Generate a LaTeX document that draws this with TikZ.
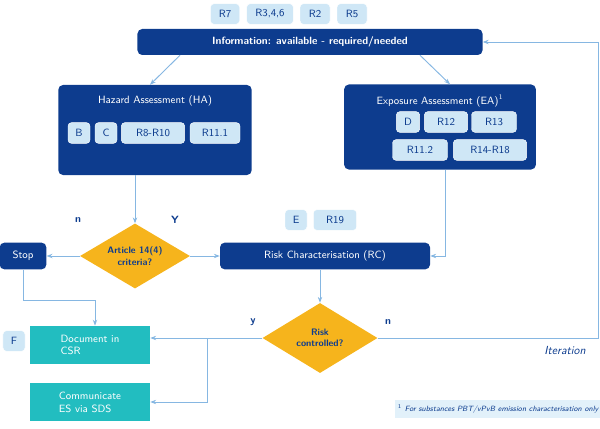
\documentclass[tikz,border=0pt]{standalone}
\usepackage{tikz}
\usetikzlibrary{shapes.geometric,arrows.meta}
\definecolor{navy}{HTML}{0D3C8E}
\definecolor{pale}{HTML}{CFE7F6}
\definecolor{teal}{HTML}{22BDC0}
\definecolor{amber}{HTML}{F6B41C}
\definecolor{wire}{HTML}{86B7E2}
\tikzset{
  big/.style={draw=none, fill=navy, rounded corners=4pt, text=white, font=\sffamily\small},
  tag/.style={draw=white, fill=pale, rounded corners=3pt, text=navy, font=\sffamily\small,
    minimum height=0.62cm, inner sep=2pt},
  doc/.style={draw=none, fill=teal, text=white, font=\sffamily\small, align=left,
    minimum width=3.6cm, minimum height=1.15cm},
  ask/.style={diamond, aspect=1.7, fill=amber, draw=none, text=navy, font=\sffamily\bfseries\footnotesize,
    align=center, inner sep=1pt},
  flow/.style={draw=wire, thick, -{Stealth[length=5pt]}},
  yesno/.style={font=\sffamily\bfseries\small, text=navy}
}
\begin{document}
\begin{tikzpicture}[x=0.03cm,y=-0.03cm]
  \useasboundingbox (0,0) rectangle (600,428);
  % top tags
  \node[tag, minimum width=0.87cm] (r7)  at (225,14) {R7};
  \node[tag, minimum width=1.4cm]  (r346) at (270,14) {R3,4,6};
  \node[tag, minimum width=0.9cm]  (r2)  at (315,14) {R2};
  \node[tag, minimum width=0.9cm]  (r5)  at (352,14) {R5};
  \node[big, font=\sffamily\bfseries\small, minimum width=10.35cm, minimum height=0.78cm] (info) at (310,42)
    {Information: available - required/needed};
  % assessments
  \node[big, minimum width=5.8cm, minimum height=2.7cm] (ha) at (155,130) {};
  \node[text=white, font=\sffamily\small] (hat) at (155,101) {Hazard Assessment (HA)};
  \node[tag, minimum width=0.66cm] (b)  at (79,133)  {B};
  \node[tag, minimum width=0.66cm] (c)  at (106,133) {C};
  \node[tag, minimum width=1.9cm]  (r8) at (153,133) {R8-R10};
  \node[tag, minimum width=1.5cm]  (r111) at (215,133) {R11.1};
  \node[big, minimum width=5.75cm, minimum height=2.55cm] (ea) at (440,127) {};
  \node[text=white, font=\sffamily\small] (eat) at (440,101) {Exposure Assessment (EA)$^1$};
  \node[tag, minimum width=0.7cm]  (d)   at (408,122) {D};
  \node[tag, minimum width=1.3cm]  (r12) at (446,122) {R12};
  \node[tag, minimum width=1.35cm] (r13) at (494,122) {R13};
  \node[tag, minimum width=1.65cm] (r112) at (420,150) {R11.2};
  \node[tag, minimum width=2.2cm]  (r14) at (490,150) {R14-R18};
  % decisions
  \node[ask, minimum width=3.3cm, minimum height=1.95cm] (art) at (135,256) {Article 14(4)\\criteria?};
  \node[big, minimum width=1.4cm, minimum height=0.8cm] (stop) at (23,256) {Stop};
  \node[tag, minimum width=0.66cm] (e)   at (296,220) {E};
  \node[tag, minimum width=1.3cm]  (r19) at (335,220) {R19};
  \node[big, minimum width=6.3cm, minimum height=0.8cm] (rc) at (325,256) {Risk Characterisation (RC)};
  \node[ask, minimum width=3.45cm, minimum height=2.1cm] (risk) at (320,338) {Risk\\controlled?};
  \node[yesno] (ny) at (78,220) {n};
  \node[yesno] (yy) at (175,220) {Y};
  \node[yesno] (ry) at (253,322) {y};
  \node[yesno] (rn) at (388,322) {n};
  % outputs
  \node[tag, minimum width=0.66cm] (f) at (14,341) {F};
  \node[doc] (docu) at (90,345) {Document in\\CSR};
  \node[doc] (comm) at (90,402) {Communicate\\ES via SDS};
  \node[font=\sffamily\itshape, text=navy] (iter) at (565,350) {Iteration};
  \node[draw=none, fill=pale!60, font=\sffamily\itshape\fontsize{6.5}{8}\selectfont, text=navy,
    minimum width=6cm, minimum height=0.55cm, inner sep=2pt] (note) at (498,409)
    {$^1$ For substances PBT/vPvB emission characterisation only};
  % connectors
  \coordinate (corner) at (598,338);
  \coordinate (split) at (207,338);
  \draw[flow] (info.south -| 180,0) -- (ha.north -| 150,0);
  \draw[flow] (info.south -| 420,0) -- (ea.north -| 450,0);
  \draw[flow] (ha.south -| art) -- (art.north);
  \draw[flow] (art.west) -- (stop.east);
  \draw[flow] (art.east) -- (rc.west);
  \draw[flow] (ea.south -| 445,0) |- (rc.east);
  \draw[flow] (rc.south -| risk) -- (risk.north);
  \draw[flow] (stop.south) |- (95,300) -- (docu.north -| 95,0);
  \draw[flow] (risk.west) -- (risk.west -| docu.east);
  \draw[flow] (split) |- (comm.east);
  \draw[flow] (risk.east) -- (corner) |- (info.east);
\end{tikzpicture}
\end{document}
